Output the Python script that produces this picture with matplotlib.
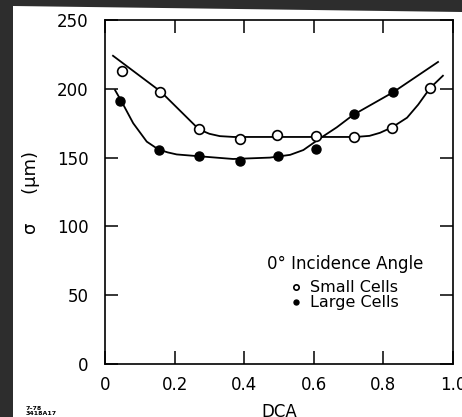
import matplotlib
matplotlib.use("Agg")
import matplotlib.pyplot as plt
from matplotlib.patches import Polygon

dca_small = [0.049, 0.158, 0.27, 0.388, 0.494, 0.606, 0.716, 0.825, 0.934]
sigma_small = [213, 197.5, 170.8, 163.5, 166.4, 165.7, 165, 171.5, 200.6]

dca_large = [0.044, 0.155, 0.27, 0.388, 0.497, 0.606, 0.716, 0.828]
sigma_large = [191, 155.5, 151, 147.5, 151, 156.5, 181.5, 197.5]

# hand drawn guide curves, vertices
curve_small_x = [0.023, 0.16, 0.27, 0.30, 0.33, 0.37, 0.50, 0.72, 0.76,
                 0.79, 0.825, 0.868, 0.90, 0.934, 0.971]
curve_small_y = [224, 198, 170.5, 167.3, 165.6, 165, 165, 165, 165.8,
                 168, 172, 179, 188.5, 200.5, 209.5]

curve_large_x = [0.029, 0.048, 0.081, 0.12, 0.153, 0.18, 0.206, 0.269,
                 0.368, 0.474, 0.532, 0.57, 0.618, 0.666, 0.713, 0.828, 0.957]
curve_large_y = [199, 190.6, 175, 161.6, 156, 153.8, 152.3, 151,
                 149, 150, 152, 155.5, 164, 172, 181, 197.5, 219.5]

x_ticks = [0, 0.2, 0.4, 0.6, 0.8, 1.0]
x_tick_labels = ["0", "0.2", "0.4", "0.6", "0.8", "1.0"]
y_ticks = [0, 50, 100, 150, 200, 250]

fig = plt.figure(figsize=(4.62, 4.17), dpi=100, facecolor="#2d2d2d")

# white paper area of the scan
paper = Polygon([(13 / 462, 0), (1, 0), (1, 1 - 12 / 417), (13 / 462, 1 - 6 / 417)],
                closed=True, transform=fig.transFigure, facecolor="white",
                edgecolor="none", zorder=-1)
fig.patches.append(paper)

ax = fig.add_axes([105 / 462, 53 / 417, 348 / 462, 344 / 417])
ax.set_facecolor("white")

ax.plot(curve_small_x, curve_small_y, color="black", lw=1.3, zorder=2)
ax.plot(curve_large_x, curve_large_y, color="black", lw=1.3, zorder=2)

ax.plot(dca_small, sigma_small, linestyle="none", marker="o", markersize=7,
        markerfacecolor="white", markeredgecolor="black", markeredgewidth=1.2,
        label="Small Cells", zorder=3)
ax.plot(dca_large, sigma_large, linestyle="none", marker="o", markersize=6.5,
        markerfacecolor="black", markeredgecolor="black",
        label="Large Cells", zorder=3)

ax.set_xlim(0, 1.0)
ax.set_ylim(0, 250)
ax.set_xticks(x_ticks)
ax.set_xticklabels(x_tick_labels)
ax.set_yticks(y_ticks)

ax.tick_params(direction="in", length=9.5, width=1.1, top=True, right=True,
               labelsize=12, colors="black")
ax.tick_params(axis="y", pad=12)
ax.tick_params(axis="x", pad=9)
for spine in ax.spines.values():
    spine.set_linewidth(1.2)
    spine.set_color("black")

ax.set_xlabel("DCA", fontsize=12, labelpad=6)
ax.set_ylabel("σ     (μm)", fontsize=13, labelpad=12)

# key: title as plain text, entries as a legend centred below it
ax.text(0.69, 0.29, "0° Incidence Angle", transform=ax.transAxes,
        fontsize=12, ha="center", va="center")
leg = ax.legend(loc="center", bbox_to_anchor=(0.69, 0.20), frameon=False,
                fontsize=11.5, markerscale=0.55, handlelength=0.5,
                handletextpad=0.6, labelspacing=0.0, borderpad=0)

fig.text(26 / 462, 1 - 411 / 417, "7–78\n3418A17", fontsize=4.5,
         fontweight="bold", va="center", ha="left", linespacing=0.9)

fig.savefig("out.png", dpi=100, facecolor=fig.get_facecolor())
